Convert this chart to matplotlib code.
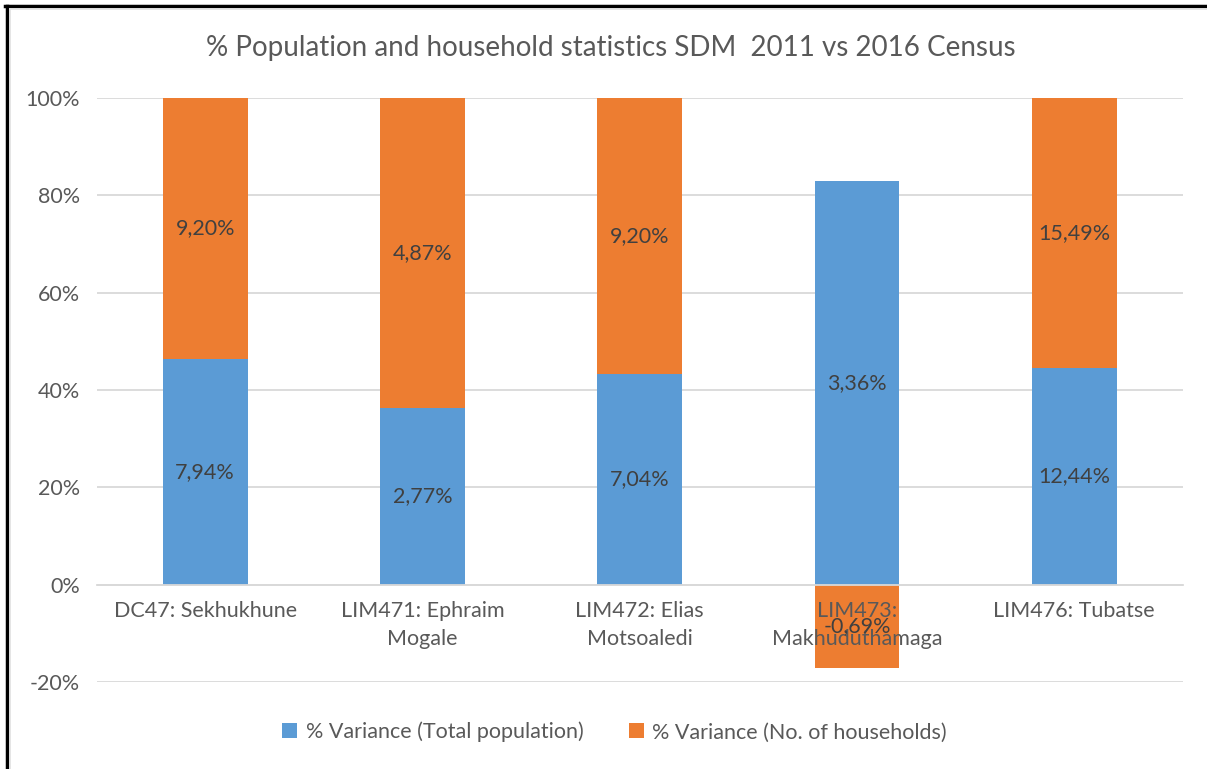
import numpy as np
import matplotlib
matplotlib.use("Agg")
import matplotlib.pyplot as plt
from matplotlib.lines import Line2D
from matplotlib.patches import Patch

plt.rcParams['font.family'] = ['Lato', 'DejaVu Sans']

# % variance between the 2011 and 2016 census per municipality
categories = ["DC47: Sekhukhune", "LIM471: Ephraim\nMogale", "LIM472: Elias\nMotsoaledi",
              "LIM473:\nMakhuduthamaga", "LIM476: Tubatse"]
population = [7.94, 2.77, 7.04, 3.36, 12.44]
households = [9.20, 4.87, 9.20, -0.69, 15.49]
series_names = ["% Variance (Total population)", "% Variance (No. of households)"]
yticks = [-0.2, 0.0, 0.2, 0.4, 0.6, 0.8, 1.0]

BLUE = "#5B9BD5"
ORANGE = "#ED7D31"
GRID = "#D9D9D9"
TXT = "#595959"
LBL = "#404040"
FS = 15.5


def pct(v):
    return f"{v:.2f}%".replace(".", ",")


pop = np.array(population)
hh = np.array(households)
# 100% stacked: each part is its share of the sum of absolute values
total = np.abs(pop) + np.abs(hh)
pop_share = pop / total
hh_share = hh / total

fig = plt.figure(figsize=(12.07, 7.69), dpi=100)
ax = fig.add_axes([0.080, 0.1131, 0.900, 0.7595])

x = np.arange(len(categories))
w = 0.39
ax.bar(x, pop_share, w, color=BLUE, zorder=3)
# positive household shares sit on top of population, negative ones hang below zero
hh_bottom = np.where(hh_share >= 0, np.maximum(pop_share, 0), 0)
ax.bar(x, hh_share, w, bottom=hh_bottom, color=ORANGE, zorder=3)

for i in range(len(categories)):
    ax.text(x[i], pop_share[i] / 2, pct(pop[i]), ha='center', va='center',
            fontsize=FS, color=LBL, zorder=7)
    ax.text(x[i], hh_bottom[i] + hh_share[i] / 2, pct(hh[i]), ha='center', va='center',
            fontsize=FS, color=LBL, zorder=7)

ax.set_xlim(-0.5, len(categories) - 0.5)
ax.set_ylim(-0.2, 1.0)
ax.set_yticks(yticks)
ax.set_yticklabels([f"{int(round(t * 100))}%" for t in yticks])
ax.yaxis.grid(True, color=GRID, linewidth=1.3, zorder=0)
for s in ['top', 'right', 'left']:
    ax.spines[s].set_visible(False)
ax.spines['bottom'].set_position(('data', 0))
ax.spines['bottom'].set_color(GRID)
ax.spines['bottom'].set_linewidth(1.3)
ax.spines['bottom'].set_zorder(4)
ax.set_xticks(x)
ax.set_xticklabels(categories, fontsize=FS, color=TXT, linespacing=1.5)
ax.tick_params(axis='x', length=0, pad=12)
ax.tick_params(axis='y', length=0, pad=12, labelsize=FS, labelcolor=TXT)
ax.xaxis.set_zorder(6)

fig.text(0.506, 0.937, "% Population and household statistics SDM  2011 vs 2016 Census",
         ha='center', va='center', fontsize=20, color=TXT)

handles = [Patch(facecolor=BLUE), Patch(facecolor=ORANGE)]
fig.legend(handles, series_names, loc='center', bbox_to_anchor=(0.509, 0.048), ncol=2,
           frameon=False, fontsize=FS, labelcolor=TXT, handlelength=0.7, handleheight=0.7,
           handletextpad=0.4, columnspacing=2.1)

# frame edges along the top and left of the image
fig.add_artist(Line2D([0.0055, 0.0055], [0, 0.992], transform=fig.transFigure,
                      color='black', linewidth=2.5))
fig.add_artist(Line2D([0.0045, 1.0], [0.992, 0.992], transform=fig.transFigure,
                      color='black', linewidth=2.5))
fig.add_artist(Line2D([0.0085, 0.0085], [0, 0.988], transform=fig.transFigure,
                      color='#E0E0E0', linewidth=1.2))
fig.add_artist(Line2D([0.0085, 1.0], [0.988, 0.988], transform=fig.transFigure,
                      color='#E0E0E0', linewidth=1.2))

fig.savefig("out.png", dpi=100)
